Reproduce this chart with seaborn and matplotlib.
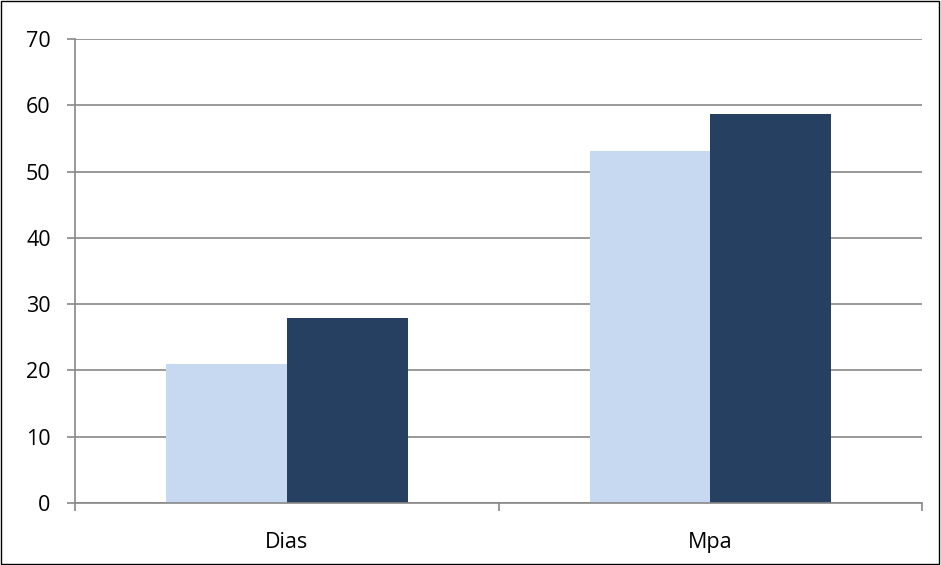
import matplotlib
matplotlib.use("Agg")
import matplotlib.pyplot as plt
import pandas as pd
import seaborn as sns
from matplotlib.patches import Rectangle

categories = ["Dias", "Mpa"]
series_names = ["Serie 1", "Serie 2"]
series_1 = [20.9, 53.1]
series_2 = [27.9, 58.7]
y_ticks = [0, 10, 20, 30, 40, 50, 60, 70]

COLORS = ["#C6D9F1", "#254061"]
GRID = "#888888"

sns.set_theme(style="white")
plt.rcParams["font.family"] = ["Open Sans", "DejaVu Sans"]

df = pd.DataFrame({
    "cat": categories * 2,
    "serie": [series_names[0]] * 2 + [series_names[1]] * 2,
    "val": series_1 + series_2,
})

fig = plt.figure(figsize=(9.41, 5.65), dpi=100)
ax = fig.add_axes([0.0797, 0.1097, 0.9003, 0.8213])

sns.barplot(data=df, x="cat", y="val", hue="serie", palette=COLORS,
            width=0.57, gap=0, saturation=1, legend=False, linewidth=0, ax=ax)

ax.set_xlim(-0.5, 1.5)
ax.set_ylim(0, 70)
ax.set_yticks(y_ticks)
ax.set_xlabel("")
ax.set_ylabel("")
ax.set_axisbelow(True)
ax.yaxis.grid(True, color=GRID, linewidth=1.2)
ax.xaxis.grid(False)

for side in ["top", "right"]:
    ax.spines[side].set_visible(False)
for side in ["left", "bottom"]:
    ax.spines[side].set_color(GRID)
    ax.spines[side].set_linewidth(1.2)

ax.tick_params(axis="y", left=True, length=5.5, width=1.2, color=GRID,
               labelsize=15.5, pad=12, labelcolor="black")
ax.tick_params(axis="x", which="major", bottom=False, length=0, labelsize=15.5,
               pad=21, labelcolor="black")
ax.set_xticks([-0.5, 0.5, 1.5], minor=True)
ax.tick_params(axis="x", which="minor", bottom=True, length=5.5, width=1.2,
               color=GRID)

# thin frame around the whole chart area
fig.patches.append(Rectangle((0.001, 0.001), 0.997, 0.997, transform=fig.transFigure,
                             fill=False, edgecolor="black", linewidth=1))

fig.savefig("out.png", dpi=100)
